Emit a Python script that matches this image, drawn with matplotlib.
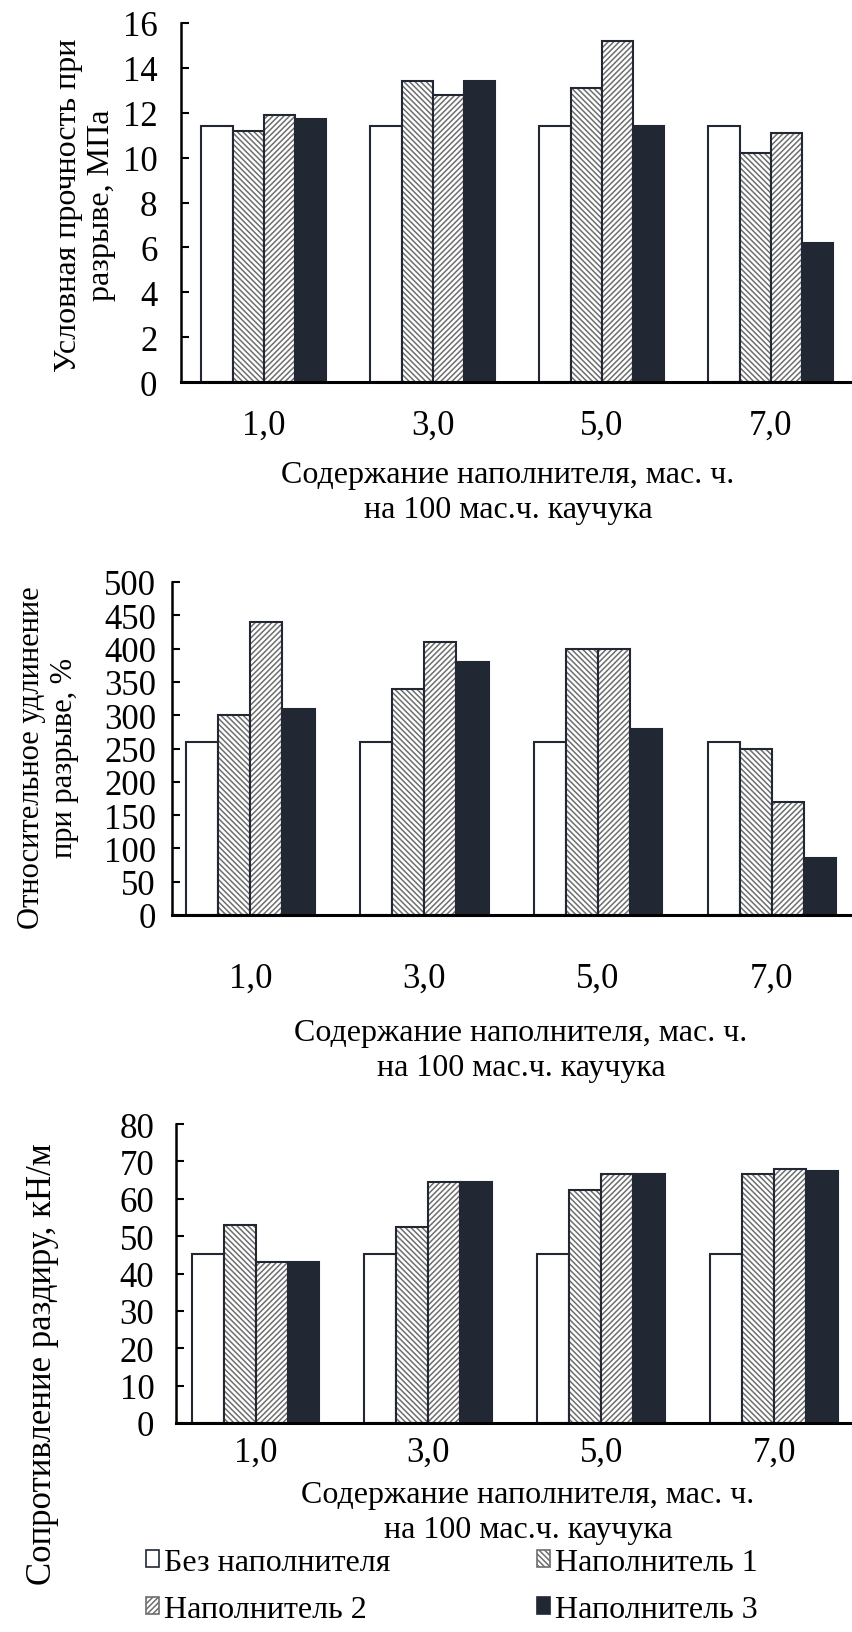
import matplotlib
matplotlib.use('Agg')
import matplotlib.pyplot as plt
from matplotlib.patches import Patch
import numpy as np

plt.rcParams['font.family'] = ['Liberation Serif', 'DejaVu Serif']
plt.rcParams['hatch.linewidth'] = 1.1

# ---------------- data ----------------
categories = ['1,0', '3,0', '5,0', '7,0']
series = ['Без наполнителя', 'Наполнитель 1', 'Наполнитель 2', 'Наполнитель 3']

strength = [[11.4, 11.4, 11.4, 11.4],
            [11.2, 13.4, 13.1, 10.2],
            [11.9, 12.8, 15.2, 11.1],
            [11.7, 13.4, 11.4, 6.2]]

elongation = [[260, 260, 260, 260],
              [300, 340, 400, 250],
              [440, 410, 400, 170],
              [310, 380, 280, 85]]

tear = [[45.3, 45.3, 45.3, 45.3],
        [53.0, 52.4, 62.3, 66.5],
        [43.2, 64.5, 66.5, 68.0],
        [43.2, 64.5, 66.5, 67.3]]

xlabel = 'Содержание наполнителя, мас. ч.\nна 100 мас.ч. каучука'

# ---------------- styles ----------------
DARK = '#222833'
HATCH_C = '#6e6e6e'
styles = [dict(color='white', hatch=None),
          dict(color='white', hatch='\\' * 6),
          dict(color='white', hatch='/' * 6),
          dict(color=DARK, hatch=None)]

W, H = 852, 1633
fig = plt.figure(figsize=(W / 100, H / 100), dpi=100)
FS = 23
TFS = 25


def px_ax(left, top, right, bottom):
    return fig.add_axes([left / W, 1 - bottom / H, (right - left) / W, (bottom - top) / H])


def draw(ax, data, ymax, ystep, xlim, ypad, xpad):
    x = np.arange(len(categories))
    bw = 0.185
    for i, vals in enumerate(data):
        pos = x + (i - 1.5) * bw
        st = styles[i]
        if st['hatch']:
            ax.bar(pos, vals, bw, color='white', edgecolor=HATCH_C, hatch=st['hatch'], linewidth=0)
            ax.bar(pos, vals, bw, fill=False, edgecolor=DARK, linewidth=1.5)
        else:
            ax.bar(pos, vals, bw, color=st['color'], edgecolor=DARK, linewidth=1.5)
    ax.set_xlim(*xlim)
    ax.set_ylim(0, ymax)
    ax.set_yticks(np.arange(0, ymax + ystep / 2, ystep))
    ax.set_xticks(x)
    ax.set_xticklabels(categories)
    for s in ['top', 'right']:
        ax.spines[s].set_visible(False)
    ax.spines['left'].set_linewidth(1.8)
    ax.spines['bottom'].set_linewidth(2.2)
    ax.tick_params(axis='y', direction='in', length=6, width=1.5, labelsize=TFS, pad=ypad)
    ax.tick_params(axis='x', length=0, labelsize=TFS, pad=xpad)


ax1 = px_ax(181, 24, 852, 383)
draw(ax1, strength, 16, 2, (-0.49, 3.48), 17, 19)
fig.text(85 / W, 1 - 205 / H, 'Условная прочность при\nразрыве, МПа', rotation=90,
         ha='center', va='center', multialignment='center', fontsize=FS)
fig.text(508 / W, 1 - 493 / H, xlabel, ha='center', va='center',
         multialignment='center', fontsize=FS, linespacing=1.3)

ax2 = px_ax(172, 583, 852, 916)
draw(ax2, elongation, 500, 50, (-0.45, 3.46), 11.5, 33.5)
fig.text(48 / W, 1 - 758 / H, 'Относительное удлинение\nпри разрыве, %', rotation=90,
         ha='center', va='center', multialignment='center', fontsize=22)
fig.text(521 / W, 1 - 1051 / H, xlabel, ha='center', va='center',
         multialignment='center', fontsize=FS, linespacing=1.3)

ax3 = px_ax(176, 1125, 852, 1424)
draw(ax3, tear, 80, 10, (-0.46, 3.45), 15.5, 9)
fig.text(43 / W, 1 - 1364 / H, 'Сопротивление раздиру, кН/м', rotation=90,
         ha='center', va='center', fontsize=25)
fig.text(528 / W, 1 - 1513 / H, xlabel, ha='center', va='center',
         multialignment='center', fontsize=FS, linespacing=1.3)

handles = []
for i, name in enumerate(series):
    st = styles[i]
    handles.append(Patch(facecolor=st['color'], edgecolor=DARK if st['hatch'] is None else HATCH_C,
                         hatch=st['hatch'], linewidth=1.2, label=name))
order = [0, 2, 1, 3]
fig.legend([handles[i] for i in order], [series[i] for i in order], ncol=2,
           loc='upper left', bbox_to_anchor=(146 / W, 1 - 1549 / H), frameon=False,
           fontsize=FS, handlelength=0.42, handleheight=0.42, handletextpad=0.15,
           columnspacing=4.57, labelspacing=0.56, borderpad=0, borderaxespad=0)

fig.savefig('out.png', dpi=100)
